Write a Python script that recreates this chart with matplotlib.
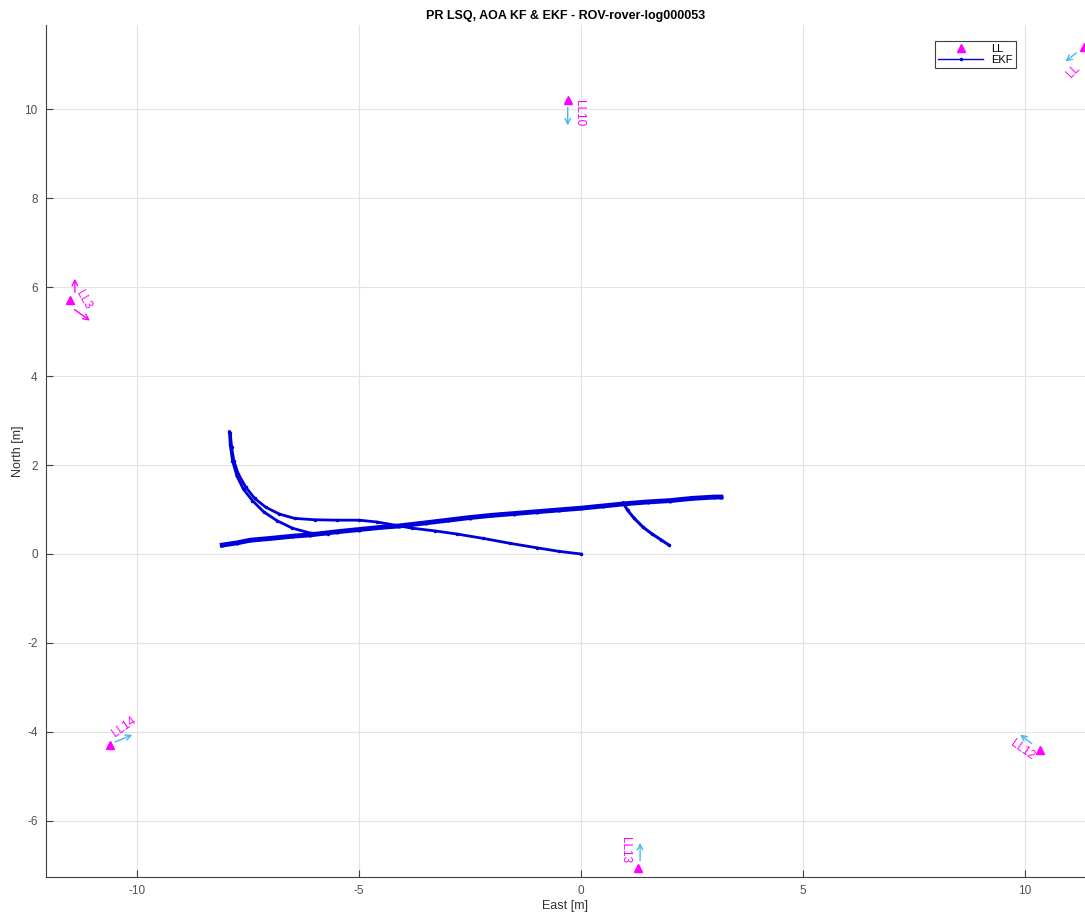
import numpy as np
import matplotlib.pyplot as plt

plt.rcParams['font.family'] = ['Liberation Sans', 'DejaVu Sans']
plt.rcParams['axes.unicode_minus'] = False

# landmark data (east, north) and arrow tips
ll_names = ["LL10", "LL3", "LL14", "LL12", "LL13", "LL"]
ll_x = [-0.29, -11.5, -10.6, 10.34, 1.28, 11.33]
ll_y = [10.2, 5.7, -4.29, -4.4, -7.06, 11.39]
arr_x0 = [-0.3, -11.46, -10.55, 10.2, 1.33, 11.2]
arr_y0 = [10.1, 5.53, -4.25, -4.3, -6.95, 11.3]
arr_x1 = [-0.3, -11.01, -10.05, 9.84, 1.33, 10.86]
arr_y1 = [9.57, 5.21, -4.04, -4.02, -6.43, 11.03]
lab_x = [-0.05, -11.2, -10.3, 9.95, 1.0, 11.1]
lab_y = [9.9, 5.7, -3.9, -4.4, -6.65, 10.85]
lab_rot = [-90, -60, 35, -35, -90, 45]

# EKF track segments
ekf1_x = [-7.9, -7.87, -7.82, -7.72, -7.55, -7.35, -7.1, -6.8, -6.45, -6.0, -5.5, -5.0,
          -4.6, -4.2, -3.8, -3.3, -2.8, -2.2, -1.6, -1.0, -0.5, 0.0]
ekf1_y = [2.72, 2.4, 2.1, 1.8, 1.5, 1.25, 1.05, 0.9, 0.8, 0.77, 0.76, 0.76,
          0.72, 0.65, 0.58, 0.52, 0.45, 0.35, 0.24, 0.14, 0.06, 0.0]
ekf2_x = [-7.92, -7.9, -7.85, -7.75, -7.6, -7.4, -7.15, -6.85, -6.5, -6.1, -5.7]
ekf2_y = [2.75, 2.45, 2.1, 1.75, 1.45, 1.2, 0.95, 0.75, 0.58, 0.47, 0.45]
ekf3_x = [-8.08, -7.75, -7.45, -7.0, -6.5, -6.1, -5.5, -5.0, -4.5, -4.1, -3.5, -3.0, -2.5,
          -2.0, -1.5, -1.0, -0.5, 0.0, 0.5, 1.0, 1.5, 2.0, 2.5, 3.0, 3.15]
ekf3_y = [0.2, 0.25, 0.31, 0.35, 0.4, 0.43, 0.5, 0.55, 0.6, 0.63, 0.7, 0.76, 0.82,
          0.87, 0.91, 0.95, 0.99, 1.03, 1.08, 1.13, 1.17, 1.2, 1.25, 1.28, 1.28]
ekf4_x = [0.95, 1.05, 1.2, 1.4, 1.6, 1.8, 1.98]
ekf4_y = [1.15, 0.98, 0.8, 0.6, 0.45, 0.32, 0.2]

mag = (1, 0, 1)
cyan = (0.3, 0.72, 0.93)
blue = (0, 0, 0.85)

fig = plt.figure(figsize=(10.85, 9.21), dpi=100)
ax = fig.add_axes([46/1085, 1-877/921, 1-46/1085, (877-25)/921])

ax.plot(ll_x, ll_y, '^', color=mag, markersize=5.5, label='LL', clip_on=False)
for i in range(len(ll_names)):
    c = mag if ll_names[i] == "LL3" else cyan
    ax.annotate('', xy=(arr_x1[i], arr_y1[i]), xytext=(arr_x0[i], arr_y0[i]),
                arrowprops=dict(arrowstyle='->', color=c, lw=1))
    ax.text(lab_x[i], lab_y[i], ll_names[i], color=mag, fontsize=8.5, rotation=lab_rot[i],
            ha='center', va='center', rotation_mode='anchor')
# LL3 has a second arrow pointing north
ax.annotate('', xy=(-11.4, 6.25), xytext=(-11.4, 5.82),
            arrowprops=dict(arrowstyle='->', color=mag, lw=1))

ax.plot(ekf1_x, ekf1_y, '.-', color=blue, lw=2, markersize=3, label='EKF')
ax.plot(ekf2_x, ekf2_y, '.-', color=blue, lw=2, markersize=3)
ax.plot(ekf3_x, ekf3_y, '.-', color=blue, lw=3.5, markersize=4)
ax.plot(ekf4_x, ekf4_y, '.-', color=blue, lw=2.2, markersize=3)

ax.set_xlim(-12.05, 11.35)
ax.set_ylim(-7.26, 11.89)
ax.set_xticks([-10, -5, 0, 5, 10])
ax.set_yticks([-6, -4, -2, 0, 2, 4, 6, 8, 10])
ax.grid(True, color='#e3e3e3', lw=0.8)
ax.set_axisbelow(True)
ax.spines['top'].set_visible(False)
ax.spines['right'].set_visible(False)
ax.spines['left'].set_color('#404040')
ax.spines['bottom'].set_color('#404040')
ax.tick_params(direction='in', length=5, labelsize=8.5, colors='#404040', labelcolor='#505050', pad=6)
ax.set_xlabel('East [m]', fontsize=9, color='#303030', labelpad=2)
ax.set_ylabel('North [m]', fontsize=9, color='#303030', labelpad=0)
ax.set_title('PR LSQ, AOA KF & EKF - ROV-rover-log000053', fontsize=9, fontweight='bold', pad=4)

leg = ax.legend(loc='upper right', bbox_to_anchor=(1022/1085, 1-35/921), bbox_transform=fig.transFigure,
                fontsize=8, fancybox=False, edgecolor='#404040', framealpha=1,
                handlelength=4, borderpad=0.3, labelspacing=0.1)
leg.get_frame().set_linewidth(0.8)
leg.get_lines()[1].set_linewidth(1)

plt.savefig('out.png', dpi=100)
